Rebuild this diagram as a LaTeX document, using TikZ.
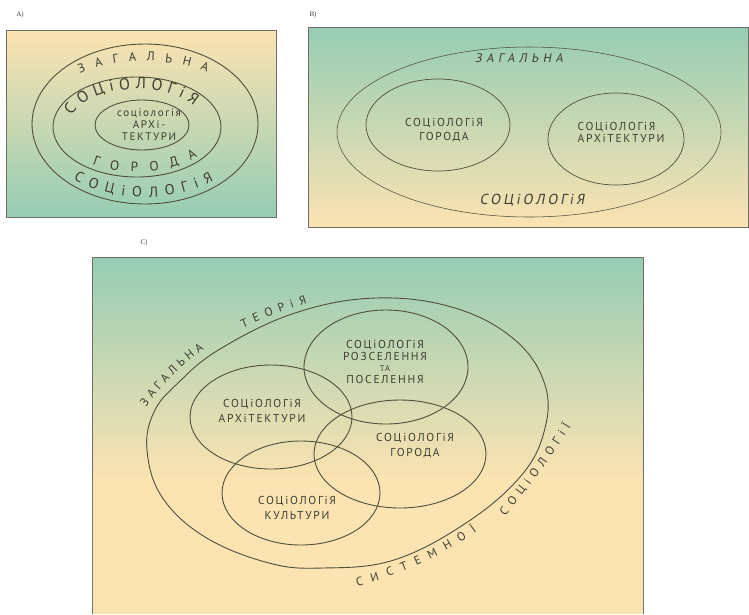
\documentclass[tikz,border=0pt]{standalone}
\usepackage{fontspec}
\setmainfont{Liberation Serif}
\newfontfamily\handfont{PT Sans}[LetterSpace=15]
\newfontfamily\handslant{PT Sans}[FakeSlant=0.18]
\usetikzlibrary{decorations.text}
\definecolor{ink}{HTML}{4F4F3A}
\definecolor{inktext}{HTML}{3E3E30}
\definecolor{peach}{HTML}{FCE3B2}
\definecolor{mint}{HTML}{96CDB4}
\definecolor{frame}{HTML}{6E6E66}

\begin{document}
\begin{tikzpicture}[x=1pt, y=-1pt,
    panel/.style={draw=frame, line width=0.8pt},
    ring/.style={draw=ink, line width=0.9pt},
    thinring/.style={draw=ink, line width=0.55pt},
    tag/.style={font=\rmfamily\fontsize{7}{8}\selectfont, text=black!75, inner sep=0pt},
    venn/.style={font=\handfont\fontsize{11.5}{15}\selectfont, text=inktext, align=center, inner sep=0pt},
    outer/.style={font=\handslant\fontsize{12.5}{12.5}\selectfont, text=inktext, inner sep=0pt},
    arctext/.style={decorate, decoration={text along path, text align={fit to path}, text color=inktext, text={#1}}}
    ]
    \useasboundingbox (0,0) rectangle (749,614);

    \shade[top color=peach, bottom color=mint] (6,30) rectangle (276,217);
    \draw[panel] (6,30) rectangle (276,217);
    \node[tag] (labA) at (20,15) {A)};
    \draw[ring] (145,124) ellipse [x radius=113, y radius=80];
    \draw[ring] (137,127) ellipse [x radius=84, y radius=50];
    \draw[ring] (142,125) ellipse [x radius=47, y radius=25];
    \node[venn, font=\handfont\fontsize{11}{12}\selectfont] (archA) at (149,125) {соціологія\\АРХі-\\ТЕКТУРИ};
    \path[arctext={|\handfont\fontsize{12.5}{12.5}\selectfont|ЗАГАЛЬНА}]
        ([shift={(-127:108 and 63)}]145,124) arc[start angle=-127, end angle=-55, x radius=108, y radius=63];
    \path[arctext={|\handfont\fontsize{16}{16}\selectfont|СОЦіОЛОГіЯ}]
        ([shift={(-163:68 and 38)}]137,127) arc[start angle=-163, end angle=-33, x radius=68, y radius=38];
    \path[arctext={|\handfont\fontsize{13.5}{13.5}\selectfont|ГОРОДА}]
        ([shift={(124:80 and 45)}]137,127) arc[start angle=124, end angle=41, x radius=80, y radius=45];
    \path[arctext={|\handfont\fontsize{14.5}{14.5}\selectfont|СОЦіОЛОГіЯ}]
        ([shift={(131:109 and 73)}]145,124) arc[start angle=131, end angle=51, x radius=109, y radius=73];

    \shade[top color=mint, bottom color=peach] (308,27) rectangle (748,227);
    \draw[panel] (308,27) rectangle (748,227);
    \node[tag] (labB) at (313,15) {B)};
    \draw[thinring] (529,132) ellipse [x radius=192, y radius=85];
    \draw[ring, line width=0.7pt] (438,125) ellipse [x radius=72, y radius=46];
    \draw[ring, line width=0.7pt] (616,139) ellipse [x radius=68, y radius=46];
    \node[venn, font=\handfont\fontsize{11.5}{14}\selectfont] (cityB) at (444,130) {СОЦіОЛОГіЯ\\ГОРОДА};
    \node[venn, font=\handfont\fontsize{11.5}{12}\selectfont, align=left] (archB) at (621,132) {СОЦіОЛОГіЯ\\АРХіТЕКТУРИ};
    \node[outer] (genB) at (519,58) {\addfontfeatures{LetterSpace=36}ЗАГАЛЬНА};
    \node[outer, font=\handslant\fontsize{14.5}{14.5}\selectfont] (socB) at (532,200) {\addfontfeatures{LetterSpace=20}СОЦіОЛОГіЯ};

    \shade[top color=mint, bottom color=peach] (92,257) rectangle (643,480);
    \fill[peach] (92,479) rectangle (643,614);
    \draw[panel] (92,614) -- (92,257) -- (643,257) -- (643,614);
    \node[tag] (labC) at (144,243) {C)};
    \draw[ring] plot[smooth cycle, tension=0.65] coordinates {(376,298) (455,308) (515,340) (545,385) (544,432)
        (520,477) (466,523) (394,560) (323,568) (269,563) (205,537) (162,497) (147,450) (154,412)
        (178,383) (220,349) (295,313)};
    \draw[ring] (386,367) ellipse [x radius=82, y radius=57];
    \draw[ring] (271,417) ellipse [x radius=81, y radius=52];
    \draw[ring] (400,454) ellipse [x radius=86, y radius=54];
    \draw[ring] (301,493) ellipse [x radius=79, y radius=52];
    \node[venn, font=\handfont\fontsize{11.5}{11.5}\selectfont] (settle) at (385,362) {СОЦіОЛОГіЯ\\РОЗСЕЛЕННЯ\\{\fontsize{8.5}{8.5}\selectfont ТА}\\ПОСЕЛЕННЯ};
    \node[venn] (archC) at (262,411) {СОЦіОЛОГіЯ\\АРХіТЕКТУРИ};
    \node[venn] (cityC) at (415,446) {СОЦіОЛОГіЯ\\ГОРОДА};
    \node[venn] (cultC) at (297,508) {СОЦіОЛОГіЯ\\КУЛЬТУРИ};
    \path[arctext={|\handfont\fontsize{12}{12}\selectfont|ЗАГАЛЬНА}] (146,407) .. controls (162,386) and (180,366) .. (204,349);
    \path[arctext={|\handfont\fontsize{12}{12}\selectfont|ТЕОРіЯ}] (243,328) .. controls (263,319) and (285,310) .. (307,303);
    \path[arctext={|\handfont\fontsize{12}{12}\selectfont|СИСТЕМНОЇ}] (357,586) .. controls (395,577) and (440,558) .. (477,531);
    \path[arctext={|\handfont\fontsize{12}{12}\selectfont|СОЦіОЛОГіЇ}] (505,516) .. controls (525,492) and (550,460) .. (571,426);
\end{tikzpicture}
\end{document}
